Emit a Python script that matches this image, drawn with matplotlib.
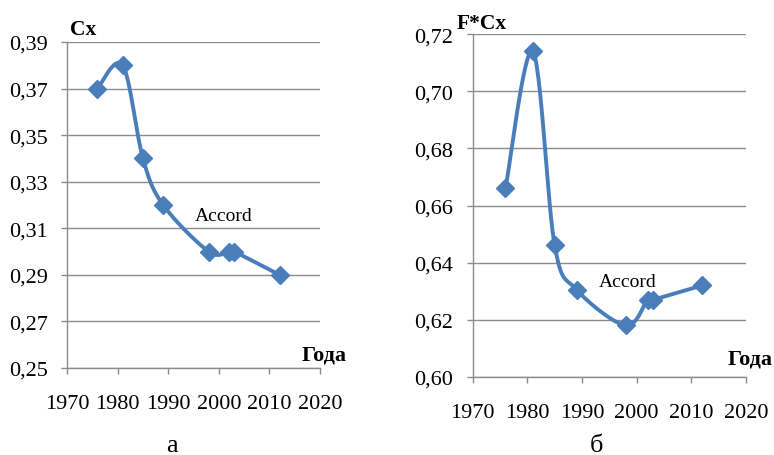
import numpy as np
import matplotlib
matplotlib.use("Agg")
import matplotlib.pyplot as plt

# data
years = [1976, 1981, 1985, 1989, 1998, 2002, 2003, 2012]
cx = [0.37, 0.38, 0.34, 0.32, 0.30, 0.30, 0.30, 0.29]
fcx = [0.666, 0.714, 0.646, 0.6305, 0.618, 0.627, 0.627, 0.632]

x_ticks = [1970, 1980, 1990, 2000, 2010, 2020]
cx_ticks = [0.25, 0.27, 0.29, 0.31, 0.33, 0.35, 0.37, 0.39]
fcx_ticks = [0.60, 0.62, 0.64, 0.66, 0.68, 0.70, 0.72]

LINE = "#4a7ebb"
GRID = "#8c8c8c"
plt.rcParams['font.family'] = ['Liberation Serif', 'DejaVu Serif']


def smooth(x, y, xlim, ylim, n=30):
    """Excel-like smoothed line: Catmull-Rom Bezier in axes-normalised space"""
    x = np.asarray(x, float)
    y = np.asarray(y, float)
    u = (x - xlim[0]) / (xlim[1] - xlim[0])
    v = (y - ylim[0]) / (ylim[1] - ylim[0]) * 2.2
    p = np.column_stack([u, v])
    p = np.vstack([p[0], p, p[-1]])
    t = np.linspace(0, 1, n)[:, None]
    out = []
    for i in range(1, len(p) - 2):
        p0, p1, p2, p3 = p[i - 1], p[i], p[i + 1], p[i + 2]
        c1 = p1 + (p2 - p0) / 6
        c2 = p2 - (p3 - p1) / 6
        seg = ((1 - t) ** 3) * p1 + 3 * ((1 - t) ** 2) * t * c1 \
            + 3 * (1 - t) * t ** 2 * c2 + t ** 3 * p2
        out.append(seg)
    out = np.vstack(out)
    xs = out[:, 0] * (xlim[1] - xlim[0]) + xlim[0]
    ys = out[:, 1] / 2.2 * (ylim[1] - ylim[0]) + ylim[0]
    return xs, ys


def panel(ax, values, yticks, ylabel, ylabel_xy, goda_xy, note_xy):
    xlim = (x_ticks[0], x_ticks[-1])
    ylim = (yticks[0], yticks[-1])
    xs, ys = smooth(years, values, xlim, ylim)
    ax.plot(xs, ys, color=LINE, lw=2.8, solid_capstyle='round', zorder=3)
    ax.plot(years, values, 'D', color=LINE, ms=9.5, zorder=4)
    ax.set_xlim(*xlim)
    ax.set_ylim(*ylim)
    ax.set_xticks(x_ticks)
    ax.set_yticks(yticks)
    ax.set_yticklabels([f"{v:.2f}".replace('.', ',') for v in yticks])
    ax.yaxis.grid(True, color=GRID, lw=1.0)
    ax.set_axisbelow(True)
    for s in ['top', 'right']:
        ax.spines[s].set_visible(False)
    for s in ['left', 'bottom']:
        ax.spines[s].set_color(GRID)
        ax.spines[s].set_linewidth(1.0)
    ax.tick_params(axis='both', colors=GRID, length=4, width=1.0,
                   labelcolor='black', labelsize=16)
    ax.tick_params(axis='y', pad=10)
    ax.tick_params(axis='x', pad=15)
    ax.text(ylabel_xy[0], ylabel_xy[1], ylabel, transform=ax.transAxes, fontsize=15.5,
            fontweight='bold', ha='left', va='bottom')
    ax.text(goda_xy[0], goda_xy[1], "Года", transform=ax.transAxes, fontsize=16,
            fontweight='bold', ha='right', va='baseline')
    ax.text(note_xy[0], note_xy[1], "Accord", fontsize=14, ha='center', va='center')


fig = plt.figure(figsize=(7.74, 4.56), dpi=100)
ax1 = fig.add_axes([0.0866, 0.1908, 0.3269, 0.7149])
ax2 = fig.add_axes([0.6107, 0.1717, 0.3531, 0.7508])

panel(ax1, cx, cx_ticks, "Cx", (0.012, 1.01), (1.107, 0.025), (2001, 0.3153))
panel(ax2, fcx, fcx_ticks, "F*Cx", (-0.057, 1.003), (1.096, 0.04), (1998.3, 0.6335))

fig.text(0.222, 0.008, "а", fontsize=19, ha='center', va='baseline')
fig.text(0.771, 0.008, "б", fontsize=19, ha='center', va='baseline')

fig.savefig("out.png", dpi=100)
